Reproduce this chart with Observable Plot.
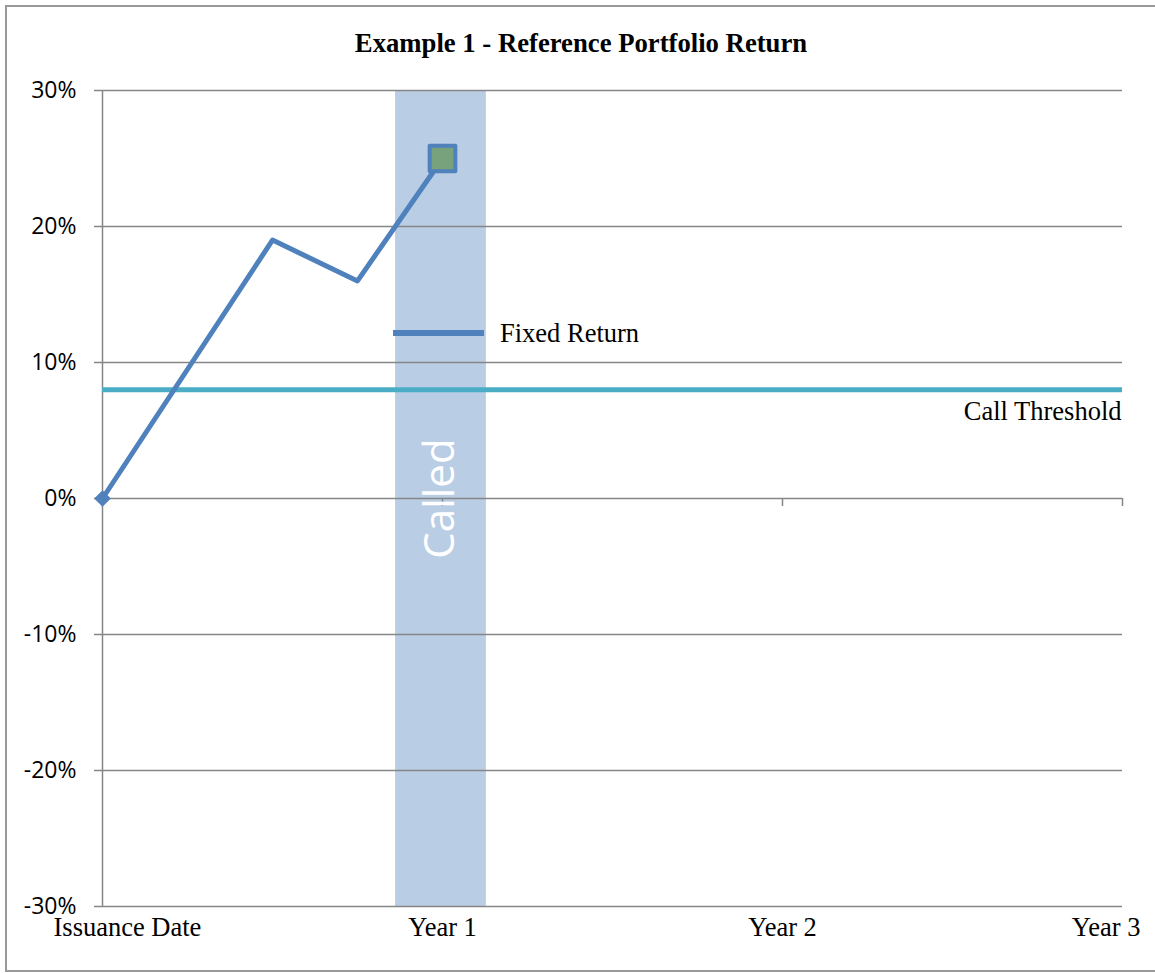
<!DOCTYPE html>
<html>
<head>
<meta charset="utf-8">
<script src="https://cdn.jsdelivr.net/npm/d3@7"></script>
<script src="https://cdn.jsdelivr.net/npm/@observablehq/plot@0.6"></script>
<style>
  html, body { margin: 0; padding: 0; background: #fff; overflow: hidden; }
  #wrap { position: relative; width: 1155px; height: 973px; overflow: hidden; }
  #border { position: absolute; left: 5px; top: 5px; width: 1170px; height: 967px; border: 2px solid #999; box-sizing: border-box; }
  #title { position: absolute; left: 0; width: 1162px; top: 28px; text-align: center;
           font: bold 26.7px "Liberation Serif", "Times New Roman", serif; color: #000; line-height: 30px; }
  #legend { position: absolute; left: 393px; top: 318px; height: 30px; display: flex; align-items: center;
            font: 26.5px "Liberation Serif", "Times New Roman", serif; color: #000; }
  #legend .sw { width: 91px; height: 6px; background: #4f81bd; margin-right: 16px; }
  #chart { position: absolute; left: 0; top: 0; }
</style>
</head>
<body>
<div id="wrap">
  <div id="border"></div>
  <div id="chart"></div>
  <div id="title"></div>
  <div id="legend"><div class="sw"></div><span id="legendText"></span></div>
</div>
<script>
// ---- Data ----
const titleText = "Example 1 - Reference Portfolio Return";
const periods = [0, 0.5, 0.75, 1];                 // years since issuance
const portfolioReturn = [0, 0.19, 0.16, 0.25];     // reference portfolio return
const callThreshold = 0.08;
const calledStart = 0.862;
const calledEnd = 1.129;
const calledLabel = "Called";
const thresholdLabel = "Call Threshold";
const seriesLabel = "Fixed Return";
const xTicks = [0, 1, 2, 3];
const xTickLabels = ["Issuance Date", "Year 1", "Year 2", "Year 3"];
const yTicks = [-0.3, -0.2, -0.1, 0, 0.1, 0.2, 0.3];

document.getElementById("title").textContent = titleText;
document.getElementById("legendText").textContent = seriesLabel;

const points = periods.map((p, i) => ({x: p, y: portfolioReturn[i]}));
const firstPoint = [points[0]];
const lastPoint = [points[points.length - 1]];
const labelRows = xTicks.map((t, i) => ({x: t, label: xTickLabels[i]}));

const grey = "#868686";
const serif = "Liberation Serif, Times New Roman, serif";
const sans = "Open Sans, Liberation Sans, sans-serif";
const pct = v => `${Math.round(v * 100)}%`;

const chart = Plot.plot({
  width: 1155,
  height: 973,
  marginLeft: 102,
  marginRight: 33,
  marginTop: 90,
  marginBottom: 67,
  style: {background: "transparent", overflow: "visible"},
  x: {domain: [0, 3], axis: null},
  y: {domain: [-0.3, 0.3], axis: null},
  marks: [
    // Called band
    Plot.rect([{x1: calledStart, x2: calledEnd}], {x1: "x1", x2: "x2", fill: "#b9cde5"}),
    // gridlines
    Plot.gridY(yTicks, {stroke: grey, strokeOpacity: 1, strokeWidth: 1.5}),
    // y axis line
    Plot.ruleX([0], {stroke: grey, strokeWidth: 1.5}),
    // y axis ticks + labels
    Plot.axisY(yTicks, {
      label: null,
      tickFormat: pct, tickSize: 8, tickPadding: 18,
      stroke: grey, strokeWidth: 1.5, fill: "#000",
      fontSize: 23, fontFamily: sans
    }),
    // x ticks on the zero line
    Plot.ruleX(xTicks, {x: d => d, y1: 0, y2: 0, insetBottom: -8, stroke: grey, strokeWidth: 1.5}),
    // x labels at the bottom
    Plot.text(labelRows.slice(0, 1), {x: "x", text: "label", frameAnchor: "bottom", dy: 29, dx: -49,
      textAnchor: "start", fontSize: 26.5, fontFamily: serif, fill: "#000"}),
    Plot.text(labelRows.slice(1, 3), {x: "x", text: "label", frameAnchor: "bottom", dy: 29,
      textAnchor: "middle", fontSize: 26.5, fontFamily: serif, fill: "#000"}),
    Plot.text(labelRows.slice(3), {x: "x", text: "label", frameAnchor: "bottom", dy: 29, dx: 18,
      textAnchor: "end", fontSize: 26.5, fontFamily: serif, fill: "#000"}),
    // call threshold line
    Plot.ruleY([callThreshold], {stroke: "#4bacc6", strokeWidth: 5}),
    Plot.text([{x: 3, y: callThreshold, label: thresholdLabel}], {x: "x", y: "y", text: "label",
      textAnchor: "end", dx: -1, dy: 22, fontSize: 26.5, fontFamily: serif, fill: "#000"}),
    // Called text
    Plot.text([{x: (calledStart + calledEnd) / 2, y: 0, label: calledLabel}], {x: "x", y: "y", text: "label",
      rotate: -90, fill: "#fff", fontSize: 42, fontFamily: sans}),
    // return line
    Plot.line(points, {x: "x", y: "y", stroke: "#4f81bd", strokeWidth: 5}),
    Plot.dot(firstPoint, {x: "x", y: "y", symbol: "diamond2", r: 7.5, fill: "#4f81bd", stroke: "none"}),
    Plot.dot(lastPoint, {x: "x", y: "y", symbol: "square", r: 14.5, fill: "#77a27b", stroke: "#4f81bd",
      strokeWidth: 4, strokeLinejoin: "round"})
  ]
});
document.getElementById("chart").appendChild(chart);
</script>
</body>
</html>
